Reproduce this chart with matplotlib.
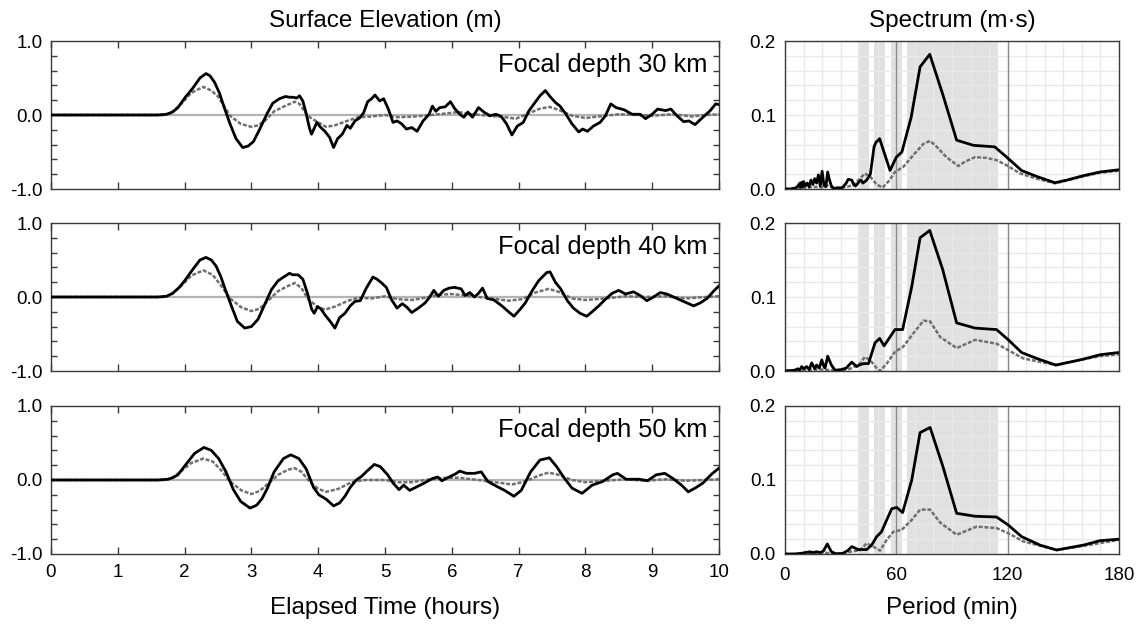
import numpy as np
import matplotlib
matplotlib.use("Agg")
import matplotlib.pyplot as plt
from matplotlib.ticker import MultipleLocator, FixedLocator

plt.rcParams['font.family'] = ['Liberation Sans', 'DejaVu Sans']

# ---------------- data: surface elevation (m) vs elapsed time (hours) ----------------
t30_solid = [0, 1.0, 1.6, 1.73, 1.82, 1.9, 2.01, 2.12, 2.23, 2.32, 2.38, 2.45, 2.52, 2.59, 2.68, 2.77, 2.87, 2.95,
             3.03, 3.12, 3.23, 3.32, 3.42, 3.51, 3.57, 3.62, 3.68, 3.72, 3.77, 3.82, 3.87, 3.9, 3.94, 3.98, 4.03,
             4.1, 4.17, 4.23, 4.29, 4.36, 4.43, 4.48, 4.55, 4.62, 4.68, 4.74, 4.8, 4.85, 4.92, 4.98, 5.05, 5.12,
             5.18, 5.25, 5.32, 5.4, 5.48, 5.57, 5.66, 5.71, 5.76, 5.82, 5.9, 5.98, 6.04, 6.12, 6.18, 6.24, 6.31,
             6.4, 6.48, 6.57, 6.66, 6.74, 6.82, 6.9, 6.98, 7.07, 7.15, 7.23, 7.32, 7.4, 7.47, 7.55, 7.62, 7.71,
             7.8, 7.9, 7.96, 8.03, 8.12, 8.22, 8.3, 8.38, 8.46, 8.58, 8.7, 8.82, 8.9, 9.0, 9.08, 9.2, 9.28, 9.37,
             9.47, 9.55, 9.64, 9.76, 9.87, 9.95, 10.0]
e30_solid = [0, 0, 0, 0.01, 0.04, 0.10, 0.24, 0.36, 0.50, 0.56, 0.53, 0.44, 0.30, 0.11, -0.12, -0.32, -0.44, -0.42,
             -0.36, -0.20, 0.01, 0.16, 0.22, 0.25, 0.24, 0.24, 0.23, 0.26, 0.19, 0.02, -0.18, -0.26, -0.18, -0.10, -0.16,
             -0.22, -0.30, -0.44, -0.32, -0.26, -0.14, -0.18, -0.08, -0.04, 0.03, 0.18, 0.22, 0.27, 0.19, 0.22, 0.08, -0.10,
             -0.08, -0.12, -0.19, -0.17, -0.22, -0.08, 0.01, 0.12, 0.05, 0.10, 0.11, 0.18, 0.09, 0.01, -0.03, 0.04, -0.03,
             0.10, 0.04, -0.01, 0.01, -0.02, -0.12, -0.27, -0.15, -0.10, 0.05, 0.15, 0.26, 0.33, 0.25, 0.17, 0.12, 0.01,
             -0.12, -0.23, -0.19, -0.22, -0.15, -0.10, -0.01, 0.15, 0.10, 0.07, 0.01, 0.01, -0.05, 0.01, 0.08, 0.06, 0.08, -0.01,
             -0.09, -0.08, -0.13, -0.03, 0.06, 0.15, 0.14]
t30_dash = [0, 1.7, 1.8, 1.95, 2.1, 2.28, 2.4, 2.5, 2.57, 2.68, 2.84, 3.0, 3.1, 3.2, 3.34, 3.5, 3.65, 3.72, 3.84,
            3.98, 4.12, 4.25, 4.4, 4.6, 4.8, 5.0, 5.2, 5.45, 5.7, 5.9, 6.1, 6.3, 6.55, 6.8, 6.96, 7.12, 7.3, 7.46,
            7.6, 7.8, 8.0, 8.2, 8.5, 8.8, 9.0, 9.3, 9.6, 9.8, 10.0]
e30_dash = [0, 0, 0.03, 0.15, 0.30, 0.38, 0.33, 0.25, 0.15, -0.01, -0.12, -0.16, -0.14, -0.08, 0.05, 0.12, 0.18, 0.15, -0.01,
            -0.09, -0.16, -0.14, -0.09, -0.03, -0.02, 0.0, -0.03, -0.02, 0.0, 0.02, 0.04, 0.01, -0.01, -0.03, -0.05, 0.01, 0.08, 0.11,
            0.07, -0.01, -0.04, -0.02, 0.01, 0.0, -0.01, 0.01, -0.02, 0.0, 0.01]

t40_solid = [0, 1.6, 1.73, 1.82, 1.92, 2.01, 2.12, 2.23, 2.32, 2.4, 2.47, 2.54, 2.61, 2.7, 2.79, 2.9, 3.0, 3.1, 3.2,
             3.3, 3.4, 3.5, 3.57, 3.62, 3.7, 3.77, 3.84, 3.9, 3.94, 3.99, 4.04, 4.1, 4.18, 4.25, 4.32, 4.4, 4.48,
             4.55, 4.63, 4.72, 4.82, 4.88, 4.95, 5.02, 5.1, 5.18, 5.26, 5.33, 5.4, 5.5, 5.6, 5.67, 5.73, 5.8, 5.88,
             5.96, 6.04, 6.14, 6.2, 6.27, 6.34, 6.4, 6.46, 6.53, 6.63, 6.75, 6.85, 6.93, 7.02, 7.1, 7.2, 7.3, 7.42,
             7.47, 7.55, 7.63, 7.73, 7.82, 7.92, 8.02, 8.1, 8.2, 8.3, 8.4, 8.5, 8.6, 8.72, 8.82, 8.92, 9.02, 9.12,
             9.22, 9.32, 9.42, 9.52, 9.62, 9.72, 9.82, 9.92, 10.0]
e40_solid = [0, 0, 0.01, 0.05, 0.13, 0.23, 0.37, 0.50, 0.535, 0.50, 0.42, 0.28, 0.10, -0.12, -0.33, -0.42, -0.40, -0.30, -0.10,
             0.10, 0.22, 0.28, 0.32, 0.30, 0.30, 0.24, 0.05, -0.16, -0.22, -0.13, -0.16, -0.24, -0.33, -0.42, -0.28, -0.22, -0.12,
             -0.06, -0.05, 0.12, 0.27, 0.24, 0.19, 0.13, -0.04, -0.15, -0.09, -0.14, -0.21, -0.15, -0.08, 0.0, 0.09, 0.01, 0.09,
             0.12, 0.13, 0.11, 0.02, 0.06, 0.0, 0.05, 0.12, -0.02, -0.04, -0.12, -0.20, -0.26, -0.17, -0.08, 0.08, 0.22, 0.33,
             0.34, 0.20, 0.11, -0.05, -0.15, -0.22, -0.26, -0.20, -0.12, -0.03, 0.05, 0.09, 0.04, 0.07, 0.02, -0.05, 0.0, 0.06,
             0.04, 0.0, -0.04, -0.08, -0.12, -0.08, -0.02, 0.08, 0.15]
t40_dash = [0, 1.7, 1.8, 1.95, 2.1, 2.28, 2.42, 2.55, 2.68, 2.85, 3.0, 3.12, 3.25, 3.4, 3.55, 3.65, 3.75, 3.85, 4.0,
            4.1, 4.25, 4.45, 4.6, 4.8, 5.0, 5.2, 5.4, 5.6, 5.8, 6.0, 6.2, 6.4, 6.6, 6.85, 7.05, 7.25, 7.45, 7.6,
            7.8, 8.0, 8.3, 8.6, 8.9, 9.2, 9.5, 9.8, 10.0]
e40_dash = [0, 0, 0.03, 0.15, 0.29, 0.36, 0.30, 0.15, -0.02, -0.14, -0.19, -0.16, -0.05, 0.08, 0.15, 0.19, 0.12, -0.03, -0.14,
            -0.17, -0.13, -0.05, -0.01, -0.02, 0.01, -0.03, -0.04, -0.01, 0.03, 0.04, 0.02, 0.0, -0.02, -0.05, -0.03, 0.06, 0.11, 0.07,
            -0.02, -0.04, -0.02, 0.01, 0.0, 0.01, -0.02, 0.0, 0.01]

t50_solid = [0, 1.6, 1.75, 1.82, 1.9, 2.01, 2.15, 2.29, 2.4, 2.51, 2.62, 2.73, 2.84, 2.98, 3.08, 3.16, 3.24, 3.34,
             3.48, 3.59, 3.71, 3.82, 3.93, 4.01, 4.12, 4.23, 4.32, 4.4, 4.48, 4.57, 4.65, 4.73, 4.84, 4.93, 5.04,
             5.12, 5.21, 5.28, 5.37, 5.48, 5.59, 5.71, 5.79, 5.85, 5.96, 6.05, 6.12, 6.22, 6.34, 6.44, 6.54, 6.66,
             6.79, 6.93, 7.04, 7.18, 7.32, 7.46, 7.57, 7.68, 7.8, 7.95, 8.1, 8.26, 8.41, 8.48, 8.61, 8.81, 8.93,
             9.06, 9.19, 9.31, 9.44, 9.54, 9.66, 9.76, 9.89, 10.0]
e50_solid = [0, 0, 0.01, 0.03, 0.07, 0.20, 0.36, 0.44, 0.40, 0.29, 0.11, -0.13, -0.29, -0.38, -0.34, -0.25, -0.11, 0.11,
             0.29, 0.34, 0.29, 0.15, -0.10, -0.20, -0.26, -0.35, -0.31, -0.22, -0.10, 0.0, 0.05, 0.12, 0.21, 0.18, 0.07,
             -0.04, -0.13, -0.07, -0.14, -0.09, -0.04, 0.02, 0.04, -0.01, 0.04, 0.08, 0.12, 0.09, 0.09, 0.11, -0.02, -0.08,
             -0.14, -0.22, -0.14, 0.11, 0.27, 0.30, 0.18, 0.03, -0.11, -0.18, -0.07, -0.02, 0.07, 0.09, 0.01, 0.01, -0.01,
             0.07, 0.09, 0.02, -0.07, -0.16, -0.10, -0.04, 0.08, 0.16]
t50_dash = [0, 1.7, 1.8, 1.95, 2.1, 2.28, 2.42, 2.55, 2.68, 2.85, 3.0, 3.12, 3.25, 3.4, 3.55, 3.65, 3.75, 3.88, 4.0,
            4.12, 4.3, 4.5, 4.7, 5.0, 5.2, 5.4, 5.6, 5.9, 6.1, 6.4, 6.65, 6.9, 7.1, 7.3, 7.45, 7.6, 7.8, 8.0, 8.3,
            8.6, 8.9, 9.2, 9.5, 9.8, 10.0]
e50_dash = [0, 0, 0.02, 0.12, 0.23, 0.29, 0.25, 0.13, -0.02, -0.14, -0.19, -0.15, -0.05, 0.07, 0.14, 0.16, 0.11, -0.03, -0.12,
            -0.16, -0.12, -0.03, 0.0, 0.0, -0.03, -0.03, 0.0, 0.03, 0.03, 0.0, -0.03, -0.06, -0.02, 0.06, 0.10, 0.07, 0.0, -0.03, -0.01,
            0.01, -0.01, 0.01, -0.01, 0.0, 0.01]

# ---------------- data: spectrum (m*s) vs period (min) ----------------
p30_solid = [0, 3, 5, 6, 7, 8, 8.5, 9, 9.5, 10, 11, 12, 13, 14, 15, 16, 17, 18, 19, 20, 21, 22, 23, 24, 25, 26,
             28, 31, 33, 34, 36, 37, 38, 40, 41, 42, 44, 46, 48, 49, 51, 54, 56.6, 60, 63, 68, 72.8, 78, 85, 92.5,
             101.5, 113, 119.5, 127.5, 135.6, 145.5, 151.8, 160.8, 169.8, 180]
s30_solid = [0, 0, 0.001, 0.002, 0.004, 0.008, 0.002, 0.009, 0.003, 0.01, 0.004, 0.008, 0.003, 0.012, 0.006, 0.014, 0.008,
             0.019, 0.004, 0.024, 0.005, 0.003, 0.023, 0.012, 0.004, 0.001, 0.001, 0.002, 0.008, 0.013, 0.012, 0.006, 0.004,
             0.01, 0.012, 0.008, 0.012, 0.02, 0.057, 0.063, 0.068, 0.045, 0.025, 0.043, 0.05, 0.097, 0.165, 0.182, 0.128,
             0.066, 0.059, 0.057, 0.043, 0.025, 0.017, 0.0085, 0.012, 0.018, 0.023, 0.026]
p30_dash = [0, 10, 15, 20, 22.5, 26, 29.6, 33, 36.8, 40.4, 43, 45.8, 49.4, 52.6, 55.7, 59.3, 63.8, 69.2, 74.6, 78.2,
            81.8, 87, 93.4, 97, 102.4, 108.7, 114, 119.5, 126.7, 135.6, 145.5, 160.8, 169.8, 180]
s30_dash = [0, 0.001, 0.003, 0.002, 0.005, 0.002, 0.002, 0.003, 0.005, 0.014, 0.021, 0.017, 0.006, 0.002, 0.01, 0.023,
            0.03, 0.046, 0.061, 0.065, 0.057, 0.043, 0.031, 0.037, 0.043, 0.042, 0.039, 0.032, 0.021, 0.014, 0.0076,
            0.017, 0.022, 0.0246]

p40_solid = [0, 5, 7, 8, 9, 10, 11.7, 13, 14.4, 16, 17, 18.5, 19.8, 21, 21.6, 23, 25, 27, 30.5, 33, 36, 38.6, 40,
             42.2, 45, 48.5, 51, 53.4, 56.6, 59.3, 63.4, 68.3, 72.8, 78, 85, 92.5, 102.4, 114, 120.4, 127.5, 135.6,
             146, 160.8, 169.8, 180]
s40_solid = [0, 0.001, 0.003, 0.001, 0.006, 0.003, 0.006, 0.002, 0.011, 0.003, 0.008, 0.004, 0.015, 0.006, 0.004, 0.02,
             0.008, 0.001, 0.002, 0.004, 0.012, 0.006, 0.008, 0.01, 0.01, 0.038, 0.044, 0.034, 0.046, 0.056, 0.056, 0.114,
             0.18, 0.19, 0.137, 0.065, 0.058, 0.056, 0.042, 0.025, 0.017, 0.008, 0.016, 0.022, 0.025]
p40_dash = [0, 10, 15, 20, 25, 30, 35, 40.4, 43, 45.8, 49.4, 51.2, 54.8, 59.3, 63.8, 69.2, 74.6, 78.2, 83.6, 92.5,
            102.4, 114, 120.4, 128.4, 146, 160.8, 169.8, 180]
s40_dash = [0, 0.001, 0.002, 0.002, 0.001, 0.001, 0.003, 0.01, 0.019, 0.015, 0.004, 0.0, 0.01, 0.026, 0.033, 0.051,
            0.068, 0.067, 0.046, 0.031, 0.042, 0.037, 0.028, 0.017, 0.008, 0.016, 0.02, 0.0226]

p50_solid = [0, 5, 9, 11, 13.5, 15, 17, 19, 20.7, 22.8, 25, 27.8, 31.4, 34, 36, 39.5, 42, 44, 46.7, 49.4, 52, 54.8,
             57.5, 60.2, 63.4, 68.3, 72.8, 78.2, 85, 92.5, 102.4, 114, 120.4, 127.5, 137.4, 146.4, 160.8, 169.8, 180]
s50_solid = [0, 0.0, 0.001, 0.002, 0.003, 0.002, 0.003, 0.002, 0.004, 0.0136, 0.003, 0.0, 0.001, 0.005, 0.01, 0.006,
             0.006, 0.006, 0.012, 0.0235, 0.03, 0.046, 0.061, 0.063, 0.056, 0.10, 0.164, 0.171, 0.119, 0.055, 0.051, 0.05,
             0.039, 0.0235, 0.012, 0.0054, 0.012, 0.018, 0.02]
p50_dash = [0, 10, 15, 20, 25, 30, 35, 40.4, 44, 47.6, 51.2, 54.8, 58.4, 62.9, 68.3, 72.8, 78.2, 83.6, 92.5, 103.3,
            114, 120.4, 128.4, 146.4, 160.8, 180]
s50_dash = [0, 0.0, 0.001, 0.002, 0.001, 0.001, 0.003, 0.005, 0.0145, 0.01, 0.0045, 0.019, 0.03, 0.0326, 0.046, 0.06,
            0.06, 0.0425, 0.026, 0.037, 0.035, 0.028, 0.017, 0.0054, 0.011, 0.019]

depth_labels = ['Focal depth 30 km', 'Focal depth 40 km', 'Focal depth 50 km']
shade_bands = [(39.2, 45.0), (48.0, 54.0), (57.0, 63.0), (65.6, 114.7)]
ref_periods = [60, 120]

elev_series = [(t30_solid, e30_solid, t30_dash, e30_dash),
               (t40_solid, e40_solid, t40_dash, e40_dash),
               (t50_solid, e50_solid, t50_dash, e50_dash)]
spec_series = [(p30_solid, s30_solid, p30_dash, s30_dash),
               (p40_solid, s40_solid, p40_dash, s40_dash),
               (p50_solid, s50_solid, p50_dash, s50_dash)]

# ---------------- figure ----------------
W, H = 1144, 626
fig = plt.figure(figsize=(W / 100, H / 100), dpi=100)

rows_px = [(41, 189), (223, 371), (406, 554)]
left_px = (51, 719)
right_px = (785, 1119)

def fbox(xr, yr):
    return [xr[0] / W, 1 - yr[1] / H, (xr[1] - xr[0]) / W, (yr[1] - yr[0]) / H]

spine_col = '#3a3a3a'
dash_col = '#707070'
tick_fs = 13.5
label_fs = 17.5

for i in range(3):
    axl = fig.add_axes(fbox(left_px, rows_px[i]))
    ts, es, td, ed = elev_series[i]
    axl.axhline(0, color='#b4b4b4', lw=1.6, zorder=1)
    axl.plot(td, ed, color=dash_col, lw=1.8, ls=(0, (1.6, 0.7)), zorder=2)
    axl.plot(ts, es, color='black', lw=2.0, zorder=3, solid_joinstyle='round')
    axl.set_xlim(0, 10)
    axl.set_ylim(-1, 1)
    axl.xaxis.set_major_locator(MultipleLocator(1))
    axl.yaxis.set_major_locator(FixedLocator([-1, 0, 1]))
    axl.yaxis.set_minor_locator(MultipleLocator(0.2))
    axl.set_yticklabels(['-1.0', '0.0', '1.0'])
    axl.tick_params(which='both', direction='in', top=True, right=True, color=spine_col,
                    labelsize=tick_fs, width=1)
    axl.tick_params(which='major', length=5)
    axl.tick_params(which='minor', length=4)
    axl.tick_params(axis='y', which='major', length=0, pad=6)
    axl.tick_params(axis='y', which='minor', length=4)
    axl.tick_params(axis='x', which='major', pad=7)
    if i < 2:
        axl.tick_params(labelbottom=False)
    for s in axl.spines.values():
        s.set_color(spine_col)
        s.set_linewidth(1.0)
    axl.text(0.983, 0.79, depth_labels[i], transform=axl.transAxes, ha='right', va='baseline',
             fontsize=18.3)

    axr = fig.add_axes(fbox(right_px, rows_px[i]))
    ps, ss, pdd, sd = spec_series[i]
    for a, b in shade_bands:
        axr.axvspan(a, b, color='#e1e1e1', lw=0, zorder=0.2)
    axr.set_axisbelow(True)
    axr.set_xlim(0, 180)
    axr.set_ylim(0, 0.2)
    axr.xaxis.set_major_locator(FixedLocator([0, 60, 120, 180]))
    axr.yaxis.set_major_locator(FixedLocator([0, 0.1, 0.2]))
    axr.xaxis.set_minor_locator(MultipleLocator(10))
    axr.yaxis.set_minor_locator(MultipleLocator(0.02))
    axr.set_yticklabels(['0.0', '0.1', '0.2'])
    axr.grid(which='both', color='#e9e9e9', lw=1.0)
    for rp in ref_periods:
        axr.axvline(rp, color='#8a8a8a', lw=1.0, zorder=1)
    axr.plot(pdd, sd, color=dash_col, lw=1.8, ls=(0, (1.6, 0.7)), zorder=2)
    axr.plot(ps, ss, color='black', lw=2.0, zorder=3, solid_joinstyle='round')
    axr.tick_params(which='both', length=0, labelsize=tick_fs)
    axr.tick_params(axis='y', pad=6.5)
    axr.tick_params(axis='x', pad=9)
    if i < 2:
        axr.tick_params(labelbottom=False)
    for s in axr.spines.values():
        s.set_color(spine_col)
        s.set_linewidth(1.0)

fig.text((left_px[0] + left_px[1]) / 2 / W, 1 - 27 / H, 'Surface Elevation (m)', ha='center', va='baseline',
         fontsize=label_fs)
fig.text((right_px[0] + right_px[1]) / 2 / W, 1 - 27 / H, 'Spectrum (m\u00b7s)', ha='center', va='baseline',
         fontsize=label_fs)
fig.text((left_px[0] + left_px[1]) / 2 / W, 1 - 614 / H, 'Elapsed Time (hours)', ha='center', va='baseline',
         fontsize=label_fs)
fig.text((right_px[0] + right_px[1]) / 2 / W, 1 - 614 / H, 'Period (min)', ha='center', va='baseline',
         fontsize=label_fs)

fig.savefig('out.png', dpi=100)
